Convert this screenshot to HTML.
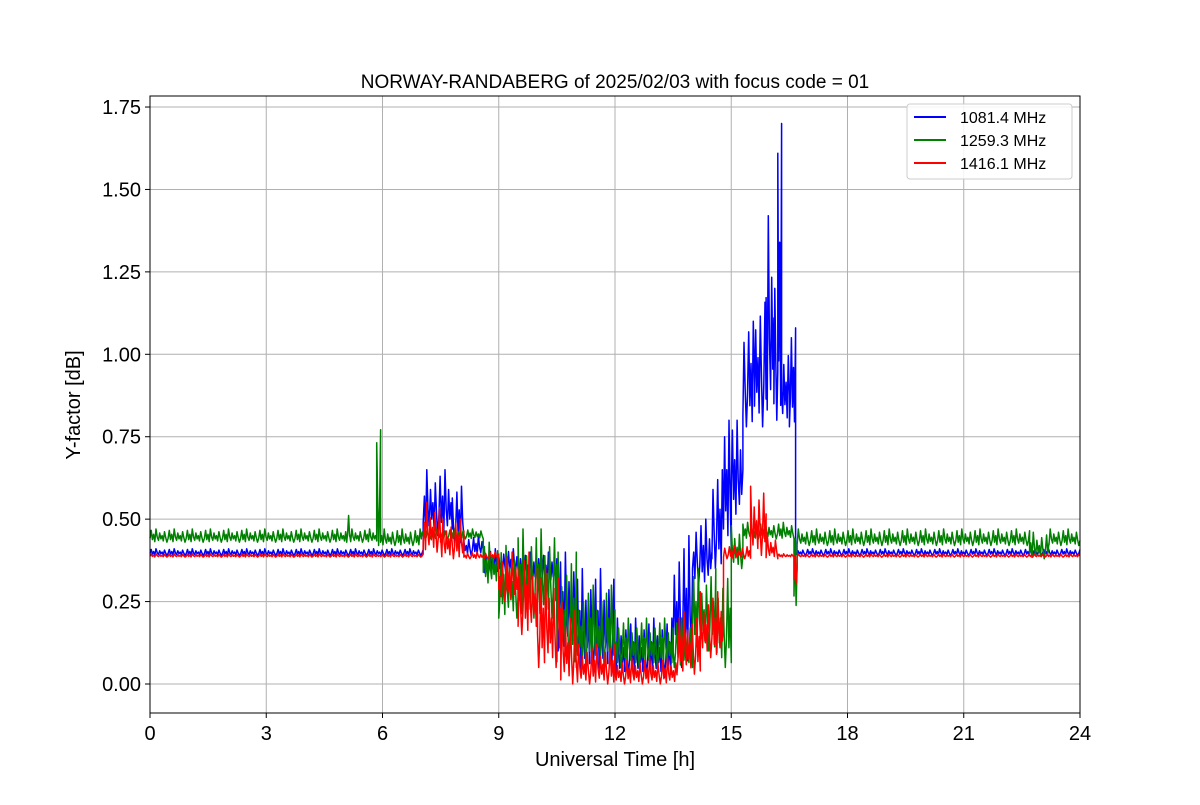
<!DOCTYPE html>
<html><head><meta charset="utf-8"><style>
body{margin:0;background:#fff;font-family:"Liberation Sans","DejaVu Sans",sans-serif}
</style></head><body>
<svg width="1200" height="800" viewBox="0 0 1200 800" xmlns="http://www.w3.org/2000/svg">
<rect width="1200" height="800" fill="#fff"/>
<g id="grid"></g>
<g id="series"></g>
<rect x="150" y="96" width="930" height="617" fill="none" stroke="#000" stroke-width="1"/>
<g id="ticks"></g>
<text x="615" y="88" text-anchor="middle" font-size="19">NORWAY-RANDABERG of 2025/02/03 with focus code = 01</text>
<text x="615" y="766" text-anchor="middle" font-size="20">Universal Time [h]</text>
<text transform="translate(80,405) rotate(-90)" text-anchor="middle" font-size="20">Y-factor [dB]</text>
<g>
<rect x="907" y="104" width="165" height="75" rx="3" fill="#fff" fill-opacity="0.85" stroke="#ccc"/>
<line x1="914" y1="117" x2="946" y2="117" stroke="#0000ff" stroke-width="2"/>
<text x="960" y="123" font-size="16">1081.4 MHz</text>
<line x1="914" y1="140" x2="946" y2="140" stroke="#008000" stroke-width="2"/>
<text x="960" y="146" font-size="16">1259.3 MHz</text>
<line x1="914" y1="163" x2="946" y2="163" stroke="#ff0000" stroke-width="2"/>
<text x="960" y="169" font-size="16">1416.1 MHz</text>
</g>
</svg>
<script>
const xTicks=[0,3,6,9,12,15,18,21,24];
const yTicks=[0,0.25,0.5,0.75,1.0,1.25,1.5,1.75];
const yTickLabels=["0.00","0.25","0.50","0.75","1.00","1.25","1.50","1.75"];
// segments: start hour, end hour, low value, high value
const blueStart=[0,7.05,7.8,8.1,8.6,9.5,10.5,11,12,13.5,14,14.5,14.8,15,15.3,15.6,15.9,16.1,16.2,16.3,16.5,16.66];
const blueEnd=[7.05,7.8,8.1,8.6,9.5,10.5,11,12,13.5,14,14.5,14.8,15,15.3,15.6,15.9,16.1,16.2,16.3,16.5,16.66,24];
const blueLo=[0.39,0.45,0.42,0.39,0.33,0.3,0.1,0.03,0.02,0.05,0.3,0.35,0.4,0.5,0.78,0.78,0.8,0.8,0.8,0.78,0.78,0.39];
const blueHi=[0.41,0.65,0.6,0.45,0.41,0.4,0.4,0.35,0.2,0.45,0.5,0.65,0.9,0.8,1.1,1.2,1.42,1.3,1.7,1.05,1.08,0.41];
const greenStart=[0,5.05,5.15,5.85,5.95,7,8.6,9,9.5,10.5,11,12,13.5,14,14.6,15,15.3,16.62,16.7,22.7,23.2];
const greenEnd=[5.05,5.15,5.85,5.95,7,8.6,9,9.5,10.5,11,12,13.5,14,14.6,15,15.3,16.62,16.7,22.7,23.2,24];
const greenLo=[0.43,0.43,0.43,0.42,0.42,0.44,0.3,0.2,0.2,0.05,0.05,0.05,0.05,0.1,0.05,0.35,0.44,0.18,0.42,0.38,0.42];
const greenHi=[0.47,0.52,0.47,0.81,0.47,0.47,0.43,0.42,0.47,0.4,0.3,0.2,0.2,0.35,0.35,0.48,0.49,0.47,0.47,0.46,0.47];
const redStart=[0,7.05,7.5,8.1,9,9.5,10,10.6,11,12,13.6,14.2,14.8,15.5,15.9,16.2,16.62,16.7];
const redEnd=[7.05,7.5,8.1,9,9.5,10,10.6,11,12,13.6,14.2,14.8,15.5,15.9,16.2,16.62,16.7,24];
const redLo=[0.385,0.4,0.38,0.38,0.25,0.15,0.05,0,0,0,0.03,0.08,0.38,0.39,0.38,0.385,0.28,0.385];
const redHi=[0.395,0.55,0.5,0.4,0.4,0.4,0.35,0.25,0.12,0.08,0.22,0.28,0.42,0.6,0.45,0.395,0.4,0.395];

const X=h=>150+h*38.75;
const Y=v=>684-v*329.7;
const NS="http://www.w3.org/2000/svg";
const grid=document.getElementById('grid'),ticks=document.getElementById('ticks'),ser=document.getElementById('series');
function mk(tag,attrs,parent){const e=document.createElementNS(NS,tag);for(const k in attrs)e.setAttribute(k,attrs[k]);parent.appendChild(e);return e;}
xTicks.forEach(t=>{
 const g=mk('line',{x1:X(t),x2:X(t),y1:96,y2:713,stroke:'#b0b0b0','stroke-width':1},grid);
 
 
 const k=mk('line',{x1:X(t),x2:X(t),y1:713,y2:718,stroke:'#000'},ticks);
 
 
 const l=mk('text',{x:X(t),y:740,'text-anchor':'middle','font-size':20},ticks);
 l.textContent=t;
 
 
});
yTicks.forEach((t,i)=>{
 const g=mk('line',{x1:150,x2:1080,y1:Y(t),y2:Y(t),stroke:'#b0b0b0','stroke-width':1},grid);
 
 
 const k=mk('line',{x1:145,x2:150,y1:Y(t),y2:Y(t),stroke:'#000'},ticks);
 
 
 const l=mk('text',{x:141,y:Y(t)+7,'text-anchor':'end','font-size':20},ticks);
 l.textContent=yTickLabels[i];
 
 
});
const zig=[0.3,0.9,0.2,0.6,0.05,1,0.4,0.15,0.7,0.25,0.5,0.1,0.8,0.35,0];
function draw(st,en,lo,hi,color,name){
 let d='';let c=0;
 for(let i=0;i<st.length;i++){
  const n=Math.max(3,Math.ceil((en[i]-st[i])*32));
  for(let j=0;j<=n;j++){
   const h=st[i]+(en[i]-st[i])*j/n;
   const f=zig[c++%zig.length];
   const v=lo[i]+(hi[i]-lo[i])*f;
   d+=(d?'L':'M')+X(h).toFixed(1)+','+Y(v).toFixed(1);
  }
 }
 const p=mk('path',{d:d,fill:'none',stroke:color,'stroke-width':1.5,'stroke-linejoin':'round'},ser);
 
 
}
draw(blueStart,blueEnd,blueLo,blueHi,'#0000ff','series-1081-mhz');
draw(greenStart,greenEnd,greenLo,greenHi,'#008000','series-1259-mhz');
draw(redStart,redEnd,redLo,redHi,'#ff0000','series-1416-mhz');
</script>
</body></html>
